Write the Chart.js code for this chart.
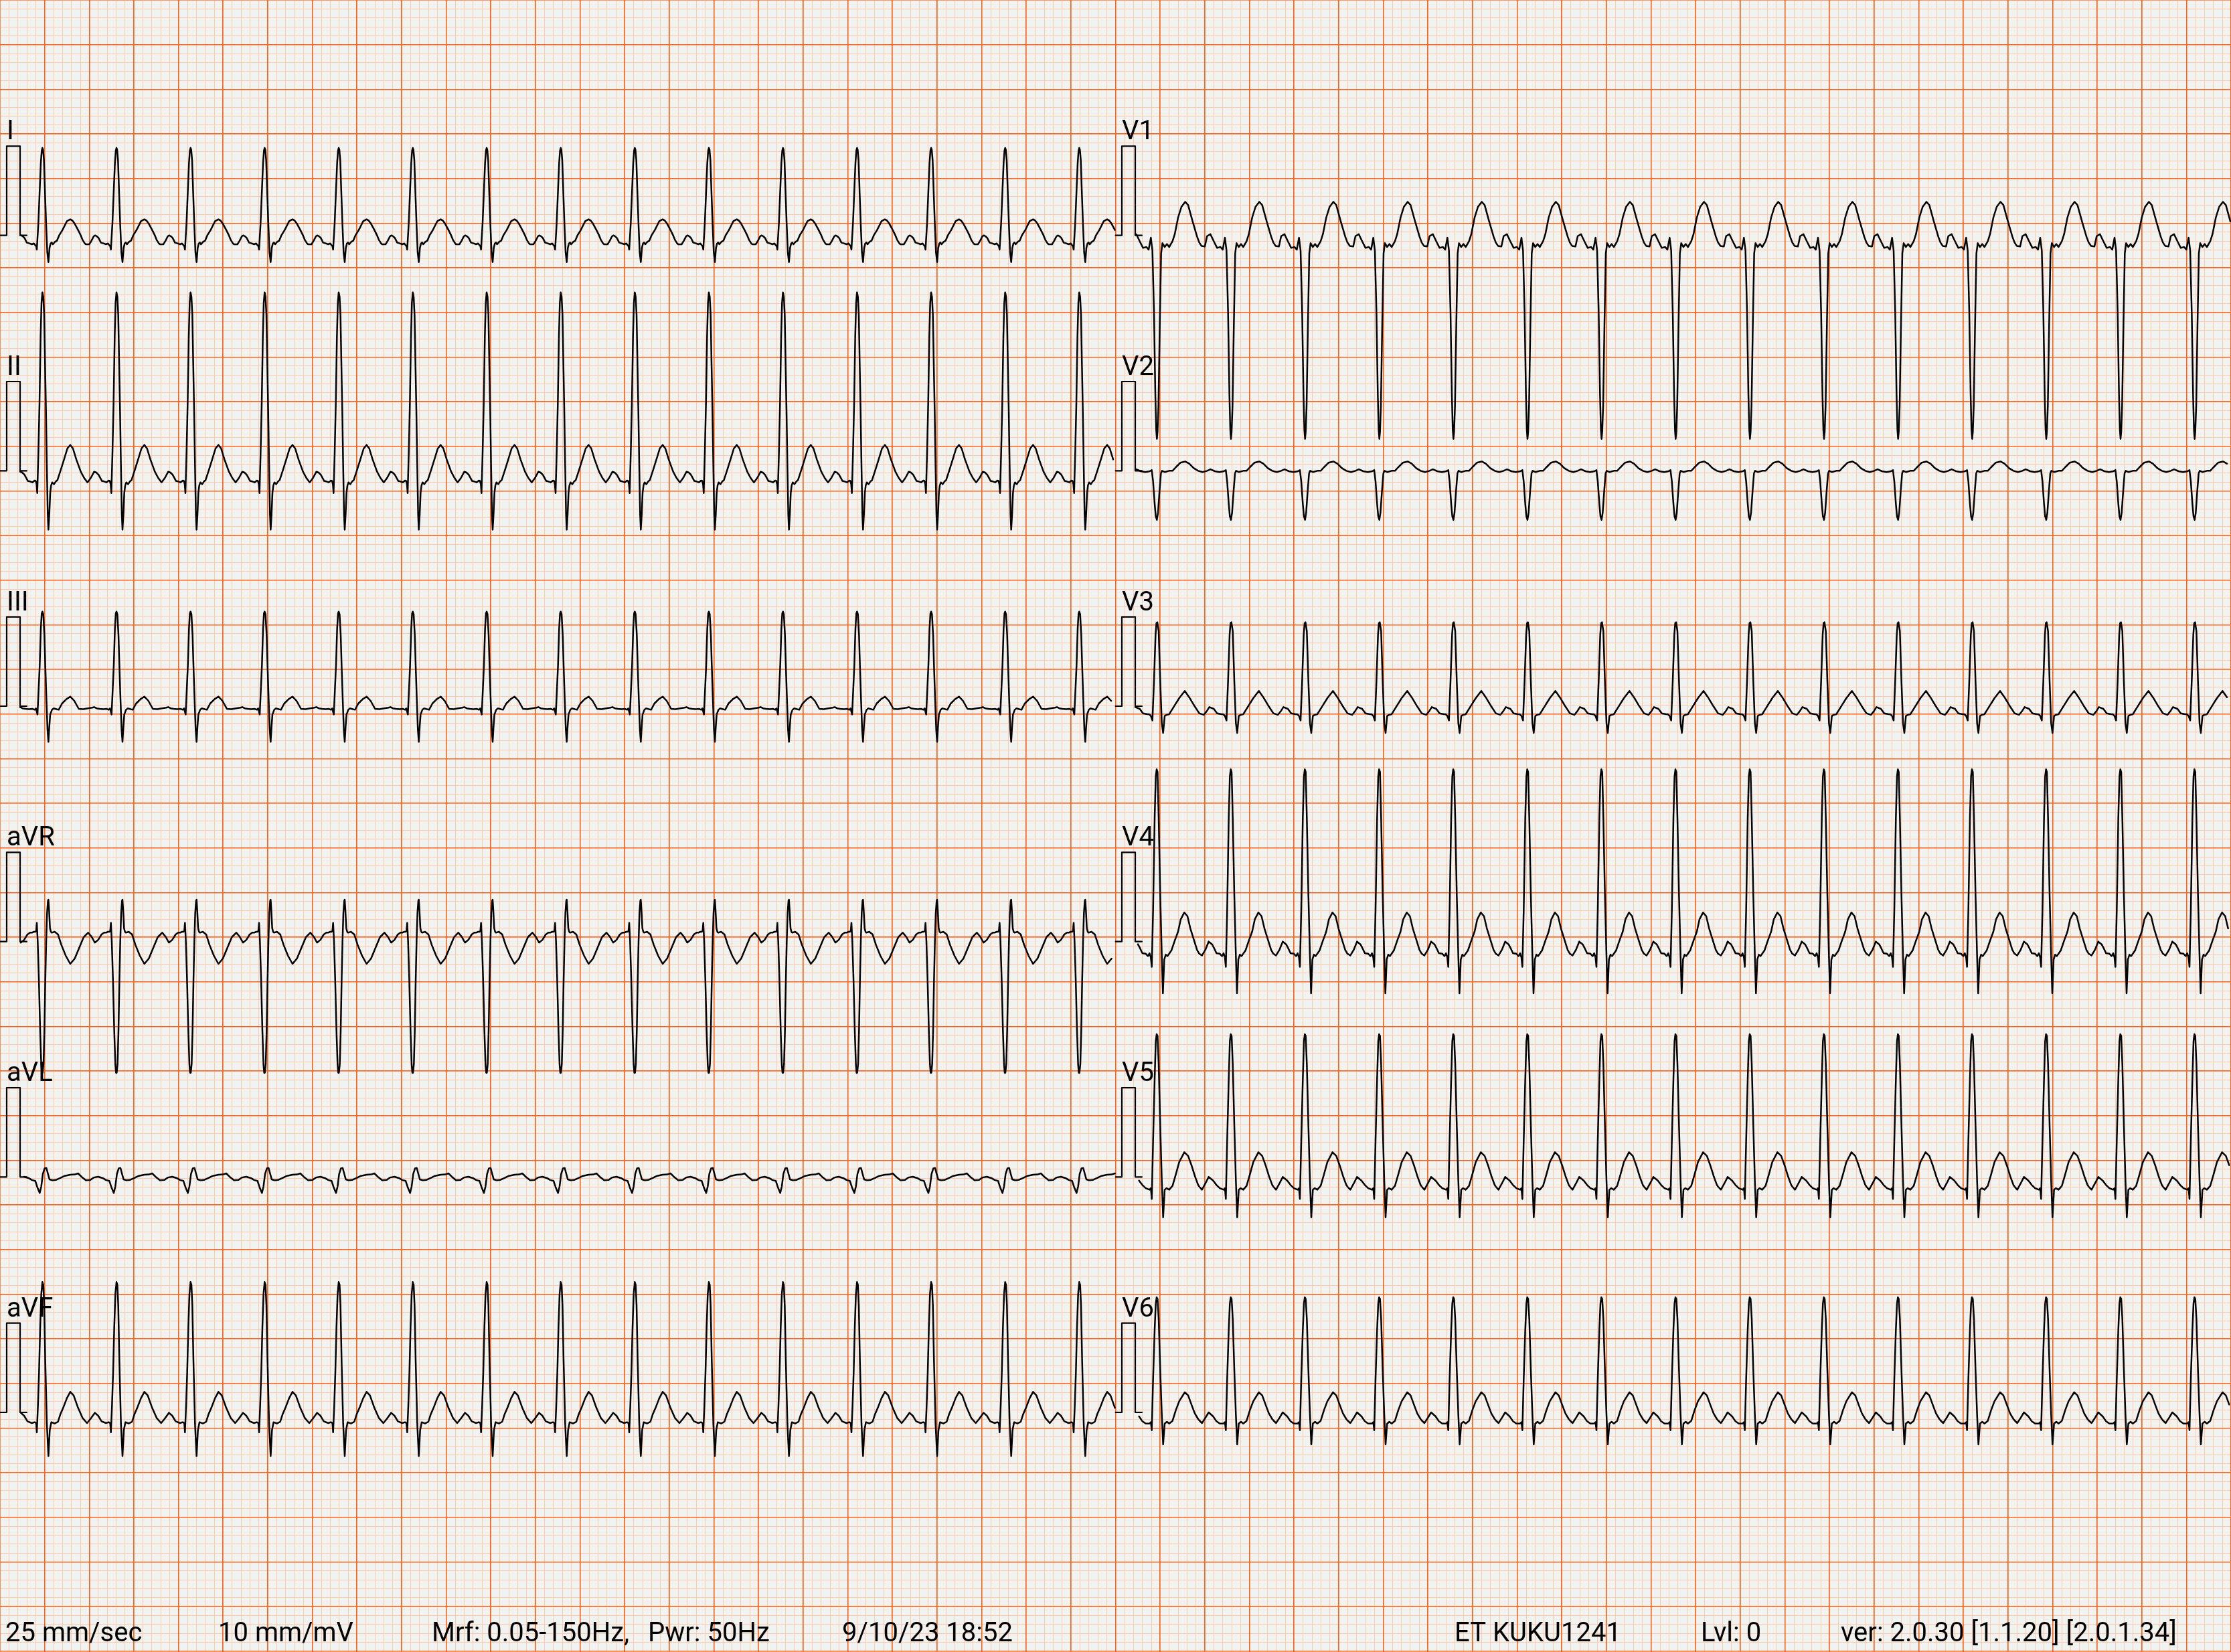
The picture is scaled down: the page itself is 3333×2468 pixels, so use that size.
<!DOCTYPE html>
<html>
<head>
<meta charset="utf-8">
<title>12-lead ECG</title>
<script src="https://cdn.jsdelivr.net/npm/chart.js@4.4.0/dist/chart.umd.min.js"></script>
<style>
html,body{margin:0;padding:0;background:#f0f3ef;overflow:hidden}
canvas{display:block}
</style>
</head>
<body>
<canvas id="ecg" width="3333" height="2468" style="width:3333px;height:2468px"></canvas>
<script>
// ---------------- DATA ----------------
// Lead names per column
const leadsCol1 = ["I", "II", "III", "aVR", "aVL", "aVF"];
const leadsCol2 = ["V1", "V2", "V3", "V4", "V5", "V6"];

// Beat fiducial times (ms) for each 5 s column
const beatsCol1 = [190, 522, 854, 1186, 1518, 1850, 2181, 2513, 2845, 3177, 3509, 3841, 4173, 4505, 4837];
const beatsCol2 = [5185, 5517, 5849, 6182, 6514, 6846, 7178, 7510, 7843, 8175, 8507, 8839, 9171, 9504, 9836];

// Trace start / end (ms) of each column
const spanCol1 = [90, 4997];
const spanCol2 = [5088, 10000];

// Calibration pulses [ms, mV]
const calCol1 = [[0, 0], [30, 0], [30, 1], [90, 1], [90, 0], [120, 0]];
const calCol2 = [[5000, 0], [5028, 0], [5028, 1], [5088, 1], [5088, 0], [5118, 0]];

// One beat per lead: [ms relative to fiducial, mV]
const tplI = [[-137,-0.10],[-122,-0.10],[-112,-0.06],[-102,-0.01],[-96,0.0],[-88,-0.01],[-80,-0.03],[-70,-0.08],[-58,-0.09],[-47,-0.10],[-38,-0.09],[-32,-0.11],[-28,-0.12],[-25,-0.16],[-18,0.14],[-12,0.51],[-7,0.81],[-3,0.95],[0,0.98],[3,0.96],[7,0.84],[12,0.46],[17,0.11],[22,-0.19],[27,-0.30],[32,-0.14],[37,-0.09],[42,-0.08],[47,-0.10],[55,-0.075],[65,-0.06],[75,0.0],[90,0.06],[100,0.11],[110,0.16],[125,0.18],[135,0.165],[145,0.13],[160,0.06],[172,0.0],[180,-0.05],[190,-0.09]];
const tplII = [[-130,-0.13],[-115,-0.08],[-100,-0.01],[-90,-0.02],[-80,-0.045],[-65,-0.114],[-55,-0.12],[-45,-0.13],[-35,-0.11],[-30,-0.114],[-26,-0.15],[-23,-0.25],[-18,0.20],[-13,0.75],[-8,1.50],[-4,1.88],[0,2.0],[4,1.95],[8,1.75],[12,1.2],[16,0.68],[20,0.06],[24,-0.49],[27,-0.66],[31,-0.49],[35,-0.25],[39,-0.165],[44,-0.13],[52,-0.15],[60,-0.12],[67,-0.107],[82,0.007],[97,0.127],[112,0.25],[125,0.29],[137,0.25],[152,0.127],[172,-0.01],[187,-0.08]];
const tplIII = [[-129,-0.024],[-109,-0.017],[-100,-0.01],[-89,-0.024],[-75,-0.03],[-59,-0.034],[-45,-0.03],[-34,-0.04],[-29,-0.024],[-22,-0.093],[-17,0.18],[-12,0.46],[-7,0.87],[-3,1.04],[0,1.06],[4,1.03],[9,0.80],[13,0.46],[18,0.08],[23,-0.265],[27,-0.40],[31,-0.23],[35,-0.093],[43,-0.04],[50,-0.025],[58,-0.03],[73,-0.04],[88,0.03],[108,0.08],[125,0.107],[143,0.06],[163,-0.03],[183,-0.034]];
const tplaVR = [[-127,0.10],[-112,0.056],[-97,-0.012],[-82,0.019],[-67,0.08],[-55,0.10],[-47,0.10],[-38,0.11],[-32,0.11],[-28,0.12],[-25,0.21],[-21,0.0],[-16,-0.4],[-10,-1.0],[-5,-1.38],[-2,-1.47],[1,-1.47],[5,-1.37],[9,-1.0],[13,-0.45],[17,0.0],[21,0.32],[25,0.46],[27,0.47],[30,0.35],[34,0.15],[38,0.11],[42,0.10],[55,0.11],[70,0.08],[85,-0.037],[105,-0.16],[125,-0.25],[145,-0.19],[165,-0.07],[185,0.05]];
const tplaVL = [[-137,-0.037],[-117,-0.034],[-102,-0.006],[-82,0.003],[-62,-0.012],[-47,-0.034],[-32,-0.044],[-22,-0.12],[-12,-0.18],[-5,-0.106],[2,0.034],[10,0.096],[18,0.10],[25,0.034],[32,-0.028],[45,-0.037],[60,-0.034],[80,-0.012],[100,0.012],[125,0.025],[145,0.028],[160,0.04],[175,0.003]];
const tplaVF = [[-132,-0.12],[-117,-0.075],[-97,-0.005],[-82,-0.0375],[-67,-0.10],[-47,-0.12],[-35,-0.11],[-28,-0.12],[-25,-0.225],[-20,0.075],[-15,0.45],[-10,0.95],[-5,1.325],[0,1.46],[4,1.43],[8,1.2],[13,0.575],[20,-0.125],[27,-0.49],[33,-0.2],[40,-0.11],[55,-0.125],[70,-0.105],[80,-0.025],[95,0.0625],[110,0.16],[125,0.23],[140,0.19],[160,0.05],[180,-0.0625]];
const tplV1 = [[-132,-0.118],[-117,-0.124],[-107,-0.008],[-92,0.013],[-77,-0.066],[-62,-0.14],[-47,-0.13],[-37,-0.16],[-27,-0.026],[-20,-0.17],[-13,-0.86],[-7,-1.78],[-3,-2.18],[0,-2.28],[3,-2.2],[7,-1.91],[13,-0.99],[19,-0.2],[25,-0.087],[35,-0.13],[45,-0.097],[55,-0.13],[70,-0.066],[80,0.013],[95,0.2],[110,0.32],[127,0.376],[140,0.34],[160,0.158],[180,-0.013],[190,-0.08]];
const tplV2 = [[-127,-0.014],[-107,0.0],[-92,0.017],[-72,-0.005],[-52,-0.014],[-40,-0.008],[-32,-0.005],[-23,0.007],[-17,-0.12],[-10,-0.37],[-5,-0.51],[0,-0.55],[5,-0.47],[12,-0.22],[18,-0.03],[23,0.0],[35,-0.014],[55,0.0],[70,0.0],[85,0.04],[105,0.09],[127,0.104],[145,0.08],[165,0.03],[185,0.0]];
const tplV3 = [[-122,-0.097],[-107,-0.05],[-97,-0.01],[-77,-0.03],[-62,-0.08],[-42,-0.09],[-35,-0.09],[-27,-0.11],[-20,-0.16],[-13,0.28],[-6,0.80],[-2,0.93],[2,0.94],[8,0.84],[15,0.28],[22,-0.19],[28,-0.30],[35,-0.11],[43,-0.097],[55,-0.09],[65,-0.05],[80,0.01],[100,0.09],[125,0.17],[145,0.10],[170,-0.004],[190,-0.08]];
const tplV4 = [[-130,-0.156],[-115,-0.094],[-100,0.0],[-85,-0.03],[-75,-0.077],[-65,-0.13],[-50,-0.136],[-40,-0.163],[-33,-0.13],[-27,-0.18],[-23,-0.284],[-17,0.353],[-10,1.386],[-5,1.85],[-1,1.93],[3,1.90],[8,1.386],[15,0.525],[22,-0.163],[27,-0.58],[33,-0.2],[40,-0.146],[47,-0.163],[55,-0.136],[65,-0.10],[80,0.009],[95,0.112],[107,0.25],[123,0.326],[137,0.284],[150,0.147],[165,0.026],[180,-0.094],[190,-0.136]];
const tplV5 = [[-130,-0.143],[-115,-0.074],[-100,0.0],[-80,-0.04],[-65,-0.09],[-50,-0.126],[-33,-0.143],[-27,-0.126],[-23,-0.246],[-17,0.408],[-10,1.097],[-5,1.52],[-1,1.6],[3,1.58],[8,1.269],[15,0.58],[22,-0.04],[28,-0.453],[35,-0.143],[43,-0.126],[55,-0.143],[70,-0.10],[85,0.03],[100,0.167],[123,0.277],[140,0.236],[155,0.132],[170,0.012],[185,-0.09],[190,-0.108]];
const tplV6 = [[-130,-0.12],[-115,-0.0625],[-100,0.0],[-80,-0.045],[-65,-0.1],[-50,-0.125],[-33,-0.125],[-27,-0.11],[-23,-0.2],[-17,0.375],[-10,0.925],[-5,1.22],[-1,1.29],[3,1.27],[8,1.05],[15,0.475],[22,-0.025],[28,-0.36],[35,-0.125],[45,-0.105],[55,-0.125],[70,-0.095],[85,0.025],[100,0.125],[125,0.225],[140,0.19],[155,0.0875],[170,-0.0125],[185,-0.075],[190,-0.09]];

// Footer texts
const footerTexts = ["25 mm/sec", "10 mm/mV", "Mrf: 0.05-150Hz,", "Pwr: 50Hz", "9/10/23 18:52", "ET KUKU1241", "Lvl: 0", "ver: 2.0.30 [1.1.20] [2.0.1.34]"];

// ---------------- LAYOUT / STYLE ----------------
const W = 3333, H = 2468;
const PX_PER_MM = 40 / 3;          // 5 mm = 66.67 px
const XMAX = W / PX_PER_MM;         // mm
const YMAX = H / PX_PER_MM;         // mm
const MM_PER_MS = 25 / 1000;        // 25 mm/s
const MM_PER_MV = 10;               // 10 mm/mV
const ROW_MM = 26.375;              // baseline spacing
const BG = "#f0f3ef";
const MINOR = "#ffc9b0";
const MAJOR = "#ff621c";
const INK = "#000000";
const footerX = [8, 326, 645, 968, 1258, 2173, 2541, 2750];
const footerY = 2452;
const labelX = [10, 1676];

const tplCol1 = [tplI, tplII, tplIII, tplaVR, tplaVL, tplaVF];
const tplCol2 = [tplV1, tplV2, tplV3, tplV4, tplV5, tplV6];

function baseMM(row) { return ROW_MM * (row + 1); }

function tracePoints(tpl, beats, span, row) {
  const pts = [];
  const b0 = baseMM(row);
  for (const B of beats) {
    for (const [dt, mv] of tpl) {
      const t = B + dt;
      if (t < span[0] || t > span[1]) continue;
      pts.push({ x: t * MM_PER_MS, y: b0 - mv * MM_PER_MV });
    }
  }
  return pts;
}
function calPoints(cal, row) {
  const b0 = baseMM(row);
  return cal.map(([t, mv]) => ({ x: t * MM_PER_MS, y: b0 - mv * MM_PER_MV }));
}

const datasets = [];
function lineDs(data, width) {
  return {
    data, borderColor: INK, borderWidth: width, pointRadius: 0, pointHoverRadius: 0,
    fill: false, tension: 0, borderJoinStyle: "round", borderCapStyle: "round",
    xAxisID: "x", yAxisID: "y", spanGaps: true
  };
}
for (let r = 0; r < 6; r++) {
  datasets.push(lineDs(calPoints(calCol1, r), 2.2));
  datasets.push(lineDs(calPoints(calCol2, r), 2.2));
  datasets.push(lineDs(tracePoints(tplCol1[r], beatsCol1, spanCol1, r), 2.5));
  datasets.push(lineDs(tracePoints(tplCol2[r], beatsCol2, spanCol2, r), 2.5));
}

function gridAxis(max, step, color, width, z, extra) {
  return Object.assign({
    type: "linear", min: 0, max: max, display: true,
    ticks: { display: false, stepSize: step, includeBounds: false, autoSkip: false },
    grid: { display: true, color: color, lineWidth: width, drawTicks: false, tickLength: 0, z: z, drawOnChartArea: true },
    border: { display: false },
    title: { display: false }
  }, extra);
}

const paper = {
  id: "paper",
  beforeDraw(chart) {
    const c = chart.ctx;
    c.save();
    c.fillStyle = BG;
    c.fillRect(0, 0, chart.width, chart.height);
    c.restore();
  },
  afterDatasetsDraw(chart) {
    const c = chart.ctx;
    const ys = chart.scales.y;
    c.save();
    c.fillStyle = INK;
    c.textBaseline = "alphabetic";
    c.textAlign = "left";
    c.font = "40px Roboto";
    for (let r = 0; r < 6; r++) {
      const topPx = ys.getPixelForValue(baseMM(r) - MM_PER_MV);
      c.fillText(leadsCol1[r], labelX[0], topPx - 10);
      c.fillText(leadsCol2[r], labelX[1], topPx - 10);
    }
    footerTexts.forEach((t, i) => c.fillText(t, footerX[i], footerY));
    c.restore();
  }
};

new Chart(document.getElementById("ecg"), {
  type: "line",
  data: { datasets },
  options: {
    responsive: false,
    maintainAspectRatio: false,
    devicePixelRatio: 1,
    animation: false,
    events: [],
    parsing: false,
    normalized: true,
    layout: { padding: 0, autoPadding: false },
    plugins: { legend: { display: false }, tooltip: { enabled: false }, title: { display: false } },
    scales: {
      x: gridAxis(XMAX, 1, MINOR, 1, -3, { position: "bottom" }),
      y: gridAxis(YMAX, 1, MINOR, 1, -3, { position: "left", reverse: true }),
      xMajor: gridAxis(XMAX, 5, MAJOR, 1.6, -2, { position: "bottom" }),
      yMajor: gridAxis(YMAX, 5, MAJOR, 1.6, -2, { position: "left", reverse: true })
    }
  },
  plugins: [paper]
});
</script>
</body>
</html>
